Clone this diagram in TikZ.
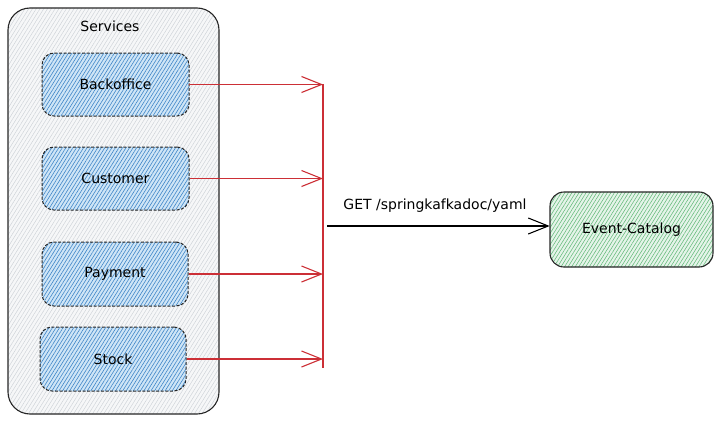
\documentclass[tikz,border=0pt]{standalone}
\usepackage{fontspec}
\setmainfont{DejaVu Sans}
\usetikzlibrary{arrows.meta,patterns.meta}
\definecolor{redline}{HTML}{CC2F36}
\definecolor{svcbg}{HTML}{F6F7F8}
\definecolor{svcln}{HTML}{CDD2D7}
\definecolor{bluebg}{HTML}{CFE5F6}
\definecolor{blueln}{HTML}{3F86C8}
\definecolor{greenbg}{HTML}{E5F4E9}
\definecolor{greenln}{HTML}{63B97A}
\tikzset{
  txt/.style={font=\fontsize{14}{16}\selectfont, text=black},
  outerbox/.style={draw=black!85, line width=1.1pt, rounded corners=22pt,
    preaction={fill=svcbg},
    pattern={Lines[angle=58,distance=3.2pt,line width=0.45pt]}, pattern color=svcln,
    minimum width=211pt, minimum height=406pt, inner sep=0pt},
  svcbox/.style={draw=black!85, line width=1pt, dash pattern=on 3pt off 1.6pt,
    rounded corners=12pt,
    preaction={fill=bluebg},
    pattern={Lines[angle=58,distance=3pt,line width=0.6pt]}, pattern color=blueln,
    minimum width=147pt, minimum height=63pt, inner sep=0pt, txt},
  catbox/.style={draw=black!85, line width=1.1pt, rounded corners=14pt,
    preaction={fill=greenbg},
    pattern={Lines[angle=58,distance=3pt,line width=0.55pt]}, pattern color=greenln,
    minimum width=163pt, minimum height=75pt, inner sep=0pt, txt},
  redarrow/.style={draw=redline, line width=1.1pt,
    -{Straight Barb[length=20pt,width=16pt,line width=1.1pt]}},
  blkarrow/.style={draw=black, line width=1.1pt,
    -{Straight Barb[length=20pt,width=16pt,line width=1.1pt]}},
}
\begin{document}
\begin{tikzpicture}[x=1pt,y=-1pt]
\useasboundingbox (0,0) rectangle (720,423);
\node[outerbox] (svc) at (113.5,211) {};
\node[txt] (svct) at (110,26) {Services};
\node[svcbox] (bo) at (115.5,84.5) {Backoffice};
\node[svcbox] (cu) at (115.5,178.5) {Customer};
\node[svcbox, minimum width=146pt, minimum height=64pt] (pa) at (115,274) {Payment};
\node[svcbox, minimum width=146pt, minimum height=64pt] (st) at (113,359) {Stock};
\node[catbox] (ec) at (631.5,229.5) {Event-Catalog};
\coordinate (bartop) at (323,84);
\coordinate (barbot) at (323,368);
\draw[draw=redline, line width=1.1pt] (bartop) -- (barbot);
\draw[redarrow] (bo.east) -- (bo.east -| bartop);
\draw[redarrow] (cu.east) -- (cu.east -| bartop);
\draw[redarrow] (pa.east) -- (pa.east -| bartop);
\draw[redarrow] (st.east) -- (st.east -| bartop);
\coordinate (gs) at (327,226);
\draw[blkarrow] (gs) -- (gs -| ec.west);
\node[txt] (lbl) at (435,206) {GET /springkafkadoc/yaml};
\end{tikzpicture}
\end{document}
